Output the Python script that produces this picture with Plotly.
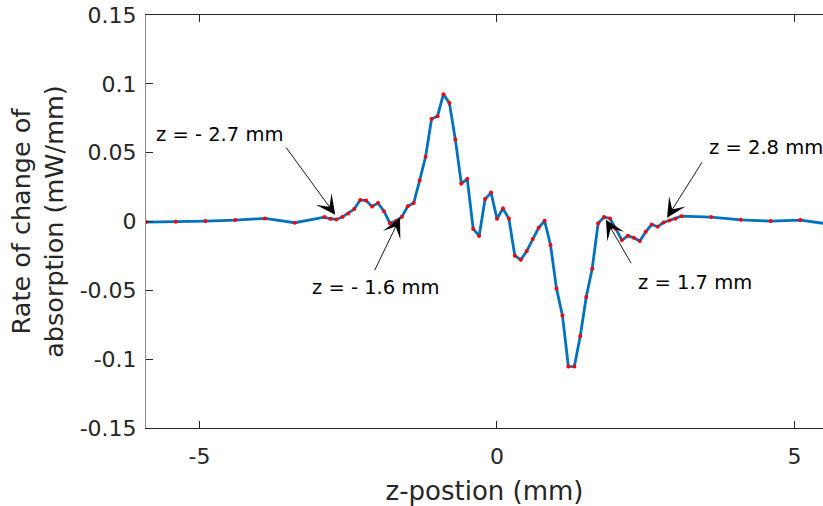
import plotly.graph_objects as go

# ---- data ----
z_pos = [-5.9, -5.4, -4.9, -4.4, -3.9, -3.4, -2.9, -2.8, -2.7, -2.6, -2.5, -2.4, -2.3, -2.2,
         -2.1, -2.0, -1.9, -1.8, -1.7, -1.6, -1.5, -1.4, -1.3, -1.2, -1.1, -1.0, -0.9, -0.8,
         -0.7, -0.6, -0.5, -0.4, -0.3, -0.2, -0.1, 0.0, 0.1, 0.2, 0.3, 0.4, 0.5, 0.6, 0.7,
         0.8, 0.9, 1.0, 1.1, 1.2, 1.3, 1.4, 1.5, 1.6, 1.7, 1.8, 1.9, 2.0, 2.1, 2.2, 2.3,
         2.4, 2.5, 2.6, 2.7, 2.8, 2.9, 3.0, 3.1, 3.6, 4.1, 4.6, 5.1, 5.6]
rate = [-0.0004, -0.0002, 0.0003, 0.0010, 0.0022, -0.0009, 0.0032, 0.0020, 0.0015, 0.0032,
        0.0058, 0.0090, 0.0157, 0.0152, 0.0109, 0.0134, 0.0075, -0.0012, 0.0004, 0.0034,
        0.0110, 0.0134, 0.0298, 0.0470, 0.0745, 0.0765, 0.0925, 0.0860, 0.0595, 0.0276,
        0.0308, -0.0054, -0.0105, 0.0163, 0.0210, 0.0020, 0.0094, 0.0021, -0.0249, -0.0278,
        -0.0215, -0.0128, -0.0046, 0.0005, -0.0171, -0.0486, -0.0682, -0.1053, -0.1054,
        -0.0832, -0.0549, -0.0343, -0.0013, 0.0032, 0.0022, -0.0055, -0.0135, -0.0104,
        -0.0118, -0.0142, -0.0075, -0.0022, -0.0038, -0.0007, 0.0007, 0.0020, 0.0039,
        0.0032, 0.0012, 0.0003, 0.0010, -0.0020]

x_tick_vals = [-5, 0, 5]
x_tick_text = ["-5", "0", "5"]
y_tick_vals = [-0.15, -0.1, -0.05, 0, 0.05, 0.1, 0.15]
y_tick_text = ["-0.15", "-0.1", "-0.05", "0", "0.05", "0.1", "0.15"]

# annotation labels and arrow geometry (data coordinates)
labels = ["z = - 2.7 mm", "z = - 1.6 mm", "z = 2.8 mm", "z = 1.7 mm"]
label_x = [-4.665, -2.034, 4.522, 3.328]
label_y = [0.0629, -0.0481, 0.0541, -0.0445]
tail_x = [-3.564, -2.068, 3.463, 2.269]
tail_y = [0.0549, -0.0365, 0.0441, -0.0314]
head_x = [-2.72, -1.63, 2.858, 1.832]
head_y = [0.0049, 0.0027, 0.0027, 0.0012]

FONT = "DejaVu Sans"
AX = "#262626"

fig = go.Figure()
fig.add_trace(go.Scatter(x=z_pos, y=rate, mode="lines",
                         line=dict(color="#0072BD", width=2.8), showlegend=False))
fig.add_trace(go.Scatter(x=z_pos, y=rate, mode="markers",
                         marker=dict(color="#FF0000", size=4), showlegend=False))

for t, lx, ly, tx, ty, hx, hy in zip(labels, label_x, label_y, tail_x, tail_y, head_x, head_y):
    fig.add_annotation(x=hx, y=hy, ax=tx, ay=ty, xref="x", yref="y", axref="x", ayref="y",
                       text="", showarrow=True, arrowhead=3, arrowsize=3.6, arrowwidth=0.9,
                       arrowcolor="black", standoff=0, startstandoff=0)
    fig.add_annotation(x=lx, y=ly, xref="x", yref="y", text=t, showarrow=False,
                       font=dict(family=FONT, size=19.5, color="black"),
                       xanchor="center", yanchor="middle")

fig.update_layout(
    width=823, height=506,
    margin=dict(l=146, r=0, t=15, b=78),
    paper_bgcolor="white", plot_bgcolor="white",
    font=dict(family=FONT, color=AX),
    xaxis=dict(range=[-5.9, 5.48], tickvals=x_tick_vals, ticktext=x_tick_text,
               ticks="inside", ticklen=7, tickcolor=AX, showline=True, linecolor=AX,
               linewidth=1, mirror="ticks", showgrid=False, zeroline=False,
               ticklabelstandoff=9,
               tickfont=dict(size=22, color=AX),
               title=dict(text="z-postion (mm)", font=dict(size=26, color=AX), standoff=14)),
    yaxis=dict(range=[-0.15, 0.15], tickvals=y_tick_vals, ticktext=y_tick_text,
               ticks="inside", ticklen=7, tickcolor=AX, showline=True, linecolor="#8c8c8c",
               linewidth=1, showgrid=False, zeroline=False,
               ticklabelstandoff=4,
               tickfont=dict(size=22, color=AX),
               title=dict(text="Rate of change of<br>absorption (mW/mm)",
                          font=dict(size=25.5, color=AX), standoff=8)),
)

fig.write_html("out.html")
